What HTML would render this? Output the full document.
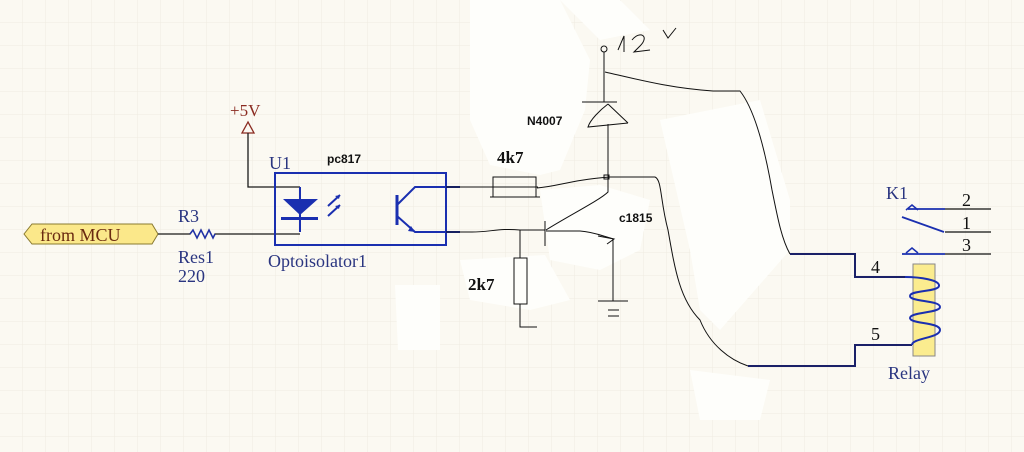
<!DOCTYPE html>
<html><head><meta charset="utf-8"><style>
html,body{margin:0;padding:0;background:#fbf9f1;}
svg{display:block}
.s{font-family:"Liberation Serif",serif}
.b{font-family:"Liberation Sans",sans-serif;font-weight:bold}
</style></head><body>
<svg width="1024" height="452" viewBox="0 0 1024 452" xmlns="http://www.w3.org/2000/svg">
<defs>
<pattern id="g" width="23" height="23" patternUnits="userSpaceOnUse">
<path d="M23 0V23M0 23H23" stroke="#efece1" stroke-width="1" fill="none"/>
</pattern>
</defs>
<rect width="1024" height="452" fill="#fbf9f2"/>
<rect width="1024" height="452" fill="url(#g)"/>
<!-- white erase blobs -->
<g fill="#fefefb">
<path d="M470 0 L560 0 L590 60 L585 110 L560 170 L540 175 L490 165 L470 120 Z"/>
<path d="M540 190 L600 185 L650 200 L640 250 L600 270 L550 260 Z"/>
<path d="M460 260 L545 255 L570 300 L530 310 L470 300 Z"/>
<path d="M395 285 L440 285 L440 350 L398 350 Z"/>
<path d="M660 120 L760 100 L790 200 L790 250 L720 330 L700 310 L690 250 Z"/>
<path d="M690 370 L770 380 L760 420 L700 420 Z"/>
<path d="M560 0 L620 0 L650 30 L600 40 Z"/>
</g>
<!-- from MCU -->
<path d="M24 234 L32 224 L152 224 L158 234 L152 244 L32 244 Z" fill="#fbe88a" stroke="#8a7a30" stroke-width="1"/>
<text x="40" y="241" class="s" font-size="18" fill="#6a2a10">from MCU</text>
<path d="M158 234 H190 l3 -4 l4 8 l4 -8 l4 8 l4 -8 l4 8 l2 -4 H300" stroke="#1a1a1a" stroke-width="1.3" fill="none"/>
<path d="M190 234 l3 -4 l4 8 l4 -8 l4 8 l4 -8 l4 8 l2 -4" stroke="#2233aa" stroke-width="1.5" fill="none"/>
<text x="178" y="222" class="s" font-size="18" fill="#2a3580">R3</text>
<text x="178" y="263" class="s" font-size="18" fill="#2a3580">Res1</text>
<text x="178" y="282" class="s" font-size="18" fill="#2a3580">220</text>
<!-- +5V -->
<text x="230" y="116" class="s" font-size="17" fill="#8a2a20">+5V</text>
<path d="M248 122 L242 133 L254 133 Z" fill="none" stroke="#8a2a20" stroke-width="1.3"/>
<path d="M248 133 V187 H300" stroke="#1a1a1a" stroke-width="1.3" fill="none"/>
<!-- opto box -->
<text x="269" y="169" class="s" font-size="18" fill="#2a3580">U1</text>
<text x="327" y="163" class="b" font-size="12" fill="#111">pc817</text>
<rect x="275" y="173" width="171" height="72" fill="none" stroke="#1a2fb0" stroke-width="2"/>
<path d="M300 187 V232" stroke="#1a2fb0" stroke-width="2"/>
<path d="M283 199 L318 199 L300 215 Z" fill="#1a2fb0"/>
<rect x="281" y="217" width="37" height="3" fill="#1a2fb0"/>
<path d="M328 206 l12 -11 M328 216 l12 -11" stroke="#1a2fb0" stroke-width="2"/>
<path d="M340 195 l-5 1 l4 3 Z M340 205 l-5 1 l4 3 Z" fill="#1a2fb0"/>
<path d="M397 195 V225" stroke="#1a2fb0" stroke-width="3"/>
<path d="M397 205 L415 187 H460 M397 216 L415 232 H460" stroke="#1a2fb0" stroke-width="2" fill="none"/>
<path d="M415 232 l-7 -1 l3 -5 Z" fill="#1a2fb0"/>
<text x="268" y="267" class="s" font-size="18" fill="#2a3580">Optoisolator1</text>
<!-- output wires -->
<g stroke="#111" stroke-width="1" fill="none">
<path d="M446 187 H492 M492 187 H538 M537 188 C560 186 570 180 610 177 H655 C662 180 660 200 668 230 C675 270 680 300 700 320 C710 345 730 360 748 366"/>
<rect x="493" y="177" width="43" height="20"/>
<path d="M490 197 H540"/>
<path d="M446 232 H472 C490 232 500 228 520 230 H545"/>
<path d="M520 230 V258"/><rect x="514" y="258" width="13" height="46"/><path d="M520 304 V327 H537"/>
<path d="M545 221 V246"/>
<path d="M546 230 C570 215 600 200 608 192 V177"/>
<path d="M546 231 H580 C595 232 605 237 614 239"/>
<path d="M598 236 L614 239 L607 244"/>
<path d="M613 239 V301 M598 301 H628 M608 310 H619 M608 316 H619"/>
<rect x="604" y="175" width="5" height="4"/>
<circle cx="604" cy="49" r="3"/>
<path d="M604 52 V102 M582 102 H617 M608 104 C600 110 590 120 588 127 L628 123 M608 104 L628 123 M608 124 V177"/>
<path d="M605 72 C640 80 670 88 713 91 H740 C755 110 765 150 772 190 C778 220 782 240 790 254"/>
<path d="M618 50 L624 36 L624 52 M632 40 C640 30 650 36 640 46 L634 52 L650 50 M663 30 L668 38 L676 28"/>
</g>
<!-- relay wires -->
<g stroke="#1a2068" stroke-width="2" fill="none">
<path d="M790 254 H855 V277 H905"/>
<path d="M748 366 H855 V345 H912"/>
</g>
<text x="527" y="125" class="b" font-size="12" fill="#111">N4007</text>
<rect x="522" y="110" width="15" height="6" fill="#fefefb"/>
<text x="497" y="163" class="s" font-size="17" font-weight="bold" fill="#111">4k7</text>
<text x="468" y="290" class="s" font-size="17" font-weight="bold" fill="#111">2k7</text>
<text x="619" y="222" class="b" font-size="12" fill="#111">c1815</text>
<!-- relay -->
<text x="886" y="199" class="s" font-size="18" fill="#2a3580">K1</text>
<path d="M945 209 H991 M945 232 H991 M945 254 H991" stroke="#111" stroke-width="1.3"/>
<path d="M908 209 H945 M902 217 L944 232 M902 254 H945" stroke="#1a2fb0" stroke-width="1.8" fill="none"/>
<path d="M906 210 L912 205 L918 210 M906 253 L912 248 L918 253" stroke="#1a2fb0" stroke-width="1.5" fill="none"/>
<text x="962" y="206" class="s" font-size="18" fill="#111">2</text>
<text x="962" y="229" class="s" font-size="18" fill="#111">1</text>
<text x="962" y="251" class="s" font-size="18" fill="#111">3</text>
<text x="871" y="273" class="s" font-size="18" fill="#111">4</text>
<text x="871" y="340" class="s" font-size="18" fill="#111">5</text>
<rect x="913" y="264" width="22" height="92" fill="#fbec8f" stroke="#888" stroke-width="1"/>
<path d="M905 277 C920 277 940 280 939 286 C938 292 910 290 910 296 C910 302 940 300 940 307 C940 313 910 312 910 318 C910 324 940 322 940 330 C940 338 912 338 912 345" stroke="#1a2fb0" stroke-width="2" fill="none"/>
<text x="888" y="379" class="s" font-size="18" fill="#2a3580">Relay</text>
</svg>
</body></html>
